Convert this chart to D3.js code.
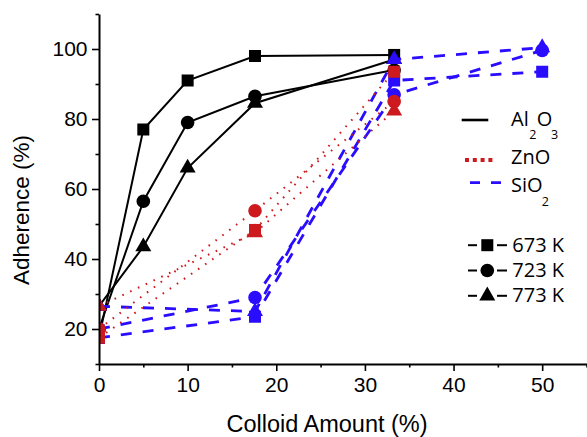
<!DOCTYPE html>
<html>
<head>
<meta charset="utf-8">
<script src="https://cdn.jsdelivr.net/npm/d3@7"></script>
<style>
  body { margin: 0; background: #fff; }
  svg { display: block; }
  .tick text { font-family: "Liberation Sans", Arial, sans-serif; font-size: 21px; fill: #000; }
</style>
</head>
<body>
<svg id="chart" width="587" height="437"></svg>
<script>
// colloid amount (%) on x, adherence (%) on y
const temps = ["673 K", "723 K", "773 K"];
const shapes = ["square", "circle", "triangle"];

// Al2O3
const al673 = [[0, 17.5], [5, 77], [10, 91], [17.6, 98], [33.3, 98.3]];
const al723 = [[0, 20], [5, 56.5], [10, 79], [17.6, 86.5], [33.3, 94]];
const al773 = [[0, 26.5], [5, 43.5], [10, 66], [17.6, 84.5], [33.3, 97]];
// ZnO
const zn673 = [[0, 17.5], [17.6, 48.3], [33.3, 93.5]];
const zn723 = [[0, 20], [17.6, 53.8], [33.3, 85]];
const zn773 = [[0, 26.5], [17.6, 47.5], [33.3, 82.3]];
// SiO2
const si673 = [[0, 17.5], [17.6, 23.5], [33.3, 91], [50, 93.5]];
const si723 = [[0, 20], [17.6, 29], [33.3, 86.9], [50, 99.6]];
const si773 = [[0, 26.5], [17.6, 25], [33.3, 97], [50, 100.4]];

const xTicks = [0, 10, 20, 30, 40, 50];
const xMinor = [5, 15, 25, 35, 45, 55];
const yTicks = [20, 40, 60, 80, 100];
const yMinor = [10, 30, 50, 70, 90, 110];

const materials = [
  { name: "Al2O3", color: "#000000", dash: null, width: 2, series: [al673, al723, al773] },
  { name: "SiO2", color: "#2a0cff", dash: "11,11", width: 2.8, series: [si673, si723, si773] },
  { name: "ZnO", color: "#cc1a1f", dash: "1.6,7", width: 2, series: [zn673, zn723, zn773] }
];

const svg = d3.select("#chart");
const x = d3.scaleLinear().domain([0, 55]).range([99, 586.5]);
const y = d3.scaleLinear().domain([10, 110]).range([364, 14]);

svg.append("defs").append("clipPath").attr("id", "plot")
  .append("rect").attr("x", 99).attr("y", 0).attr("width", 488).attr("height", 364);

function drawMarker(g, shape, cx, cy, color) {
  if (shape === "square") {
    g.append("rect").attr("x", cx - 6).attr("y", cy - 6).attr("width", 12).attr("height", 12).attr("fill", color);
  } else if (shape === "circle") {
    g.append("circle").attr("cx", cx).attr("cy", cy).attr("r", 6.8).attr("fill", color);
  } else {
    const s = 16, h = s * Math.sqrt(3) / 2;
    g.append("path")
      .attr("d", `M${cx},${cy - h * 2 / 3}L${cx + s / 2},${cy + h / 3}L${cx - s / 2},${cy + h / 3}Z`)
      .attr("fill", color);
  }
}

const plot = svg.append("g").attr("clip-path", "url(#plot)");
const line = d3.line().x(d => x(d[0])).y(d => y(d[1]));

materials.forEach(m => {
  m.series.forEach(s => {
    plot.append("path").datum(s)
      .attr("d", line)
      .attr("fill", "none")
      .attr("stroke", m.color)
      .attr("stroke-width", m.width)
      .attr("stroke-dasharray", m.dash);
  });
  // triangles first, squares last
  [2, 1, 0].forEach(i => {
    m.series[i].forEach(d => drawMarker(plot, shapes[i], x(d[0]), y(d[1]), m.color));
  });
});

// axes
function styleAxis(g) {
  g.select(".domain").attr("stroke-width", 2);
  g.selectAll(".tick line").attr("stroke-width", 1.6);
}
svg.append("g").attr("transform", "translate(0,364)")
  .call(d3.axisBottom(x).tickValues(xMinor).tickSize(3.5).tickFormat("").tickSizeOuter(0))
  .call(g => g.select(".domain").remove())
  .call(styleAxis);
svg.append("g").attr("transform", "translate(0,364)")
  .call(d3.axisBottom(x).tickValues(xTicks).tickSize(7).tickPadding(6.5).tickSizeOuter(0))
  .call(styleAxis);
svg.append("g").attr("transform", "translate(99,0)")
  .call(d3.axisLeft(y).tickValues(yMinor).tickSize(3.5).tickFormat("").tickSizeOuter(0))
  .call(g => g.select(".domain").remove())
  .call(styleAxis);
svg.append("g").attr("transform", "translate(99,0)")
  .call(d3.axisLeft(y).tickValues(yTicks).tickSize(7).tickPadding(4.5).tickSizeOuter(0))
  .call(styleAxis);

// axis titles
svg.append("text")
  .attr("x", 327).attr("y", 432)
  .attr("text-anchor", "middle")
  .style("font-family", "'Liberation Sans', Arial, sans-serif").style("font-size", "23.5px")
  .text("Colloid Amount (%)");
svg.append("text")
  .attr("transform", "translate(29,210) rotate(-90)")
  .attr("text-anchor", "middle")
  .style("font-family", "'Liberation Sans', Arial, sans-serif").style("font-size", "22.5px")
  .text("Adherence (%)");

// legend: materials
const legFont = "'Open Sans', sans-serif";
const lg = svg.append("g").style("font-family", legFont).style("font-size", "20px");

lg.append("line").attr("x1", 461.7).attr("x2", 488.3).attr("y1", 120).attr("y2", 120)
  .attr("stroke", "#000").attr("stroke-width", 2.6);
const t1 = lg.append("text").attr("x", 511).attr("y", 126);
t1.append("tspan").text("Al");
t1.append("tspan").attr("x", 529.3).attr("y", 139.3).style("font-size", "12.5px").text("2");
t1.append("tspan").attr("x", 536.7).attr("y", 126).text("O");
t1.append("tspan").attr("x", 551).attr("y", 139.3).style("font-size", "12.5px").text("3");

lg.append("line").attr("x1", 465).attr("x2", 496).attr("y1", 160).attr("y2", 160)
  .attr("stroke", "#cc1a1f").attr("stroke-width", 3.8).attr("stroke-dasharray", "4,3.8");
lg.append("text").attr("x", 511).attr("y", 164).text("ZnO");

lg.append("line").attr("x1", 470).attr("x2", 502).attr("y1", 182.7).attr("y2", 182.7)
  .attr("stroke", "#2a0cff").attr("stroke-width", 2.8).attr("stroke-dasharray", "10,11");
const t3 = lg.append("text").attr("x", 511).attr("y", 191.7);
t3.append("tspan").text("SiO");
t3.append("tspan").attr("x", 541.7).attr("y", 206).style("font-size", "12.5px").text("2");

// legend: temperatures
temps.forEach((t, i) => {
  const base = 251.7 + i * 25.3;
  const cy = base - 6.5;
  lg.append("line").attr("x1", 468).attr("x2", 477).attr("y1", cy).attr("y2", cy)
    .attr("stroke", "#000").attr("stroke-width", 2);
  lg.append("line").attr("x1", 497).attr("x2", 507).attr("y1", cy).attr("y2", cy)
    .attr("stroke", "#000").attr("stroke-width", 2);
  drawMarker(lg, shapes[i], 487.3, cy, "#000");
  lg.append("text").attr("x", 512.3).attr("y", base).text(t);
});
</script>
</body>
</html>
